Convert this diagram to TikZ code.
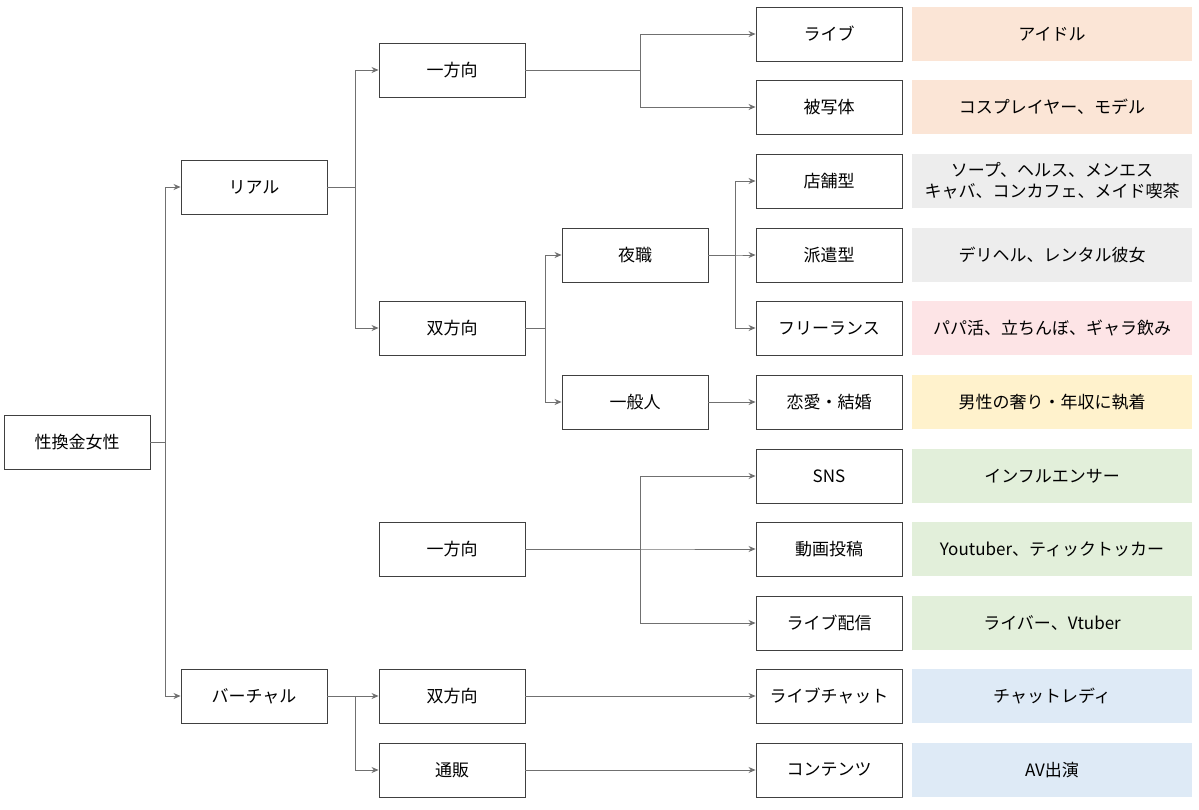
\documentclass[tikz,border=0pt]{standalone}
\usepackage{fontspec}
\newfontfamily\jp{Noto Sans CJK JP}
\usetikzlibrary{arrows.meta}
\definecolor{cOrange}{HTML}{FBE5D6}
\definecolor{cGray}{HTML}{EDEDED}
\definecolor{cPink}{HTML}{FDE4E6}
\definecolor{cYellow}{HTML}{FFF2CC}
\definecolor{cGreen}{HTML}{E2EFDA}
\definecolor{cBlue}{HTML}{DEEAF6}
\definecolor{cLine}{HTML}{707070}
\tikzset{
  box/.style={draw=black!75, line width=0.9pt, minimum width=146pt, minimum height=54pt, inner sep=0pt, font=\jp\fontsize{17}{21}\selectfont},
  tag/.style={fill=#1, minimum width=280pt, minimum height=54pt, inner sep=0pt, align=center, font=\jp\fontsize{17}{21}\selectfont},
  conn/.style={draw=cLine, line width=0.8pt, -{Stealth[length=7pt,width=6pt]}},
}
\begin{document}
\begin{tikzpicture}[x=1pt,y=-1pt]
    \useasboundingbox (0,0) rectangle (1199,809);
    %%% SPLIT POINTS %%%
    \coordinate (s0) at (165,0);
    \coordinate (s1) at (355,0);
    \coordinate (s2) at (640,0);
    \coordinate (s3) at (545,0);
    \coordinate (s4) at (735,0);

    %%% BOXES %%%
    \node[box] (root) at (77,442) {性換金女性};
    \node[box] (real) at (254,187) {リアル};
    \node[box] (virt) at (254,696) {バーチャル};
    \node[box] (r1way) at (452,70) {一方向};
    \node[box] (r2way) at (452,328) {双方向};
    \node[box] (v1way) at (452,549) {一方向};
    \node[box] (v2way) at (452,696) {双方向};
    \node[box] (mail) at (452,770) {通販};
    \node[box] (night) at (635,255) {夜職};
    \node[box] (civil) at (635,402) {一般人};

    \node[box] (live) at (829,34) {ライブ};
    \node[box] (photo) at (829,107) {被写体};
    \node[box] (shop) at (829,181) {店舗型};
    \node[box] (deli) at (829,255) {派遣型};
    \node[box] (free) at (829,328) {フリーランス};
    \node[box] (love) at (829,402) {恋愛・結婚};
    \node[box] (sns) at (829,476) {SNS};
    \node[box] (movie) at (829,549) {動画投稿};
    \node[box] (stream) at (829,623) {ライブ配信};
    \node[box] (chat) at (829,696) {ライブチャット};
    \node[box] (cont) at (829,770) {コンテンツ};

    %%% TAGS %%%
    \node[tag=cOrange] (t1) at (1052,34) {アイドル};
    \node[tag=cOrange] (t2) at (1052,107) {コスプレイヤー、モデル};
    \node[tag=cGray] (t3) at (1052,181) {ソープ、ヘルス、メンエス\\キャバ、コンカフェ、メイド喫茶};
    \node[tag=cGray] (t4) at (1052,255) {デリヘル、レンタル彼女};
    \node[tag=cPink] (t5) at (1052,328) {パパ活、立ちんぼ、ギャラ飲み};
    \node[tag=cYellow] (t6) at (1052,402) {男性の奢り・年収に執着};
    \node[tag=cGreen] (t7) at (1052,476) {インフルエンサー};
    \node[tag=cGreen] (t8) at (1052,549) {Youtuber、ティックトッカー};
    \node[tag=cGreen] (t9) at (1052,623) {ライバー、Vtuber};
    \node[tag=cBlue] (t10) at (1052,696) {チャットレディ};
    \node[tag=cBlue] (t11) at (1052,770) {AV出演};

    %%% CONNECTORS %%%
    \foreach \a/\s/\b in {root/s0/real, root/s0/virt, real/s1/r1way, real/s1/r2way,
        r1way/s2/live, r1way/s2/photo, r2way/s3/night, r2way/s3/civil,
        night/s4/shop, night/s4/deli, night/s4/free, v1way/s2/sns, v1way/s2/movie,
        v1way/s2/stream, virt/s1/v2way, virt/s1/mail}
      \draw[conn] (\a.east) -- (\a.east -| \s) |- (\b.west);
    \draw[conn] (civil) -- (love);
    \draw[conn] (v2way) -- (chat);
    \draw[conn] (mail) -- (cont);
\end{tikzpicture}
\end{document}
